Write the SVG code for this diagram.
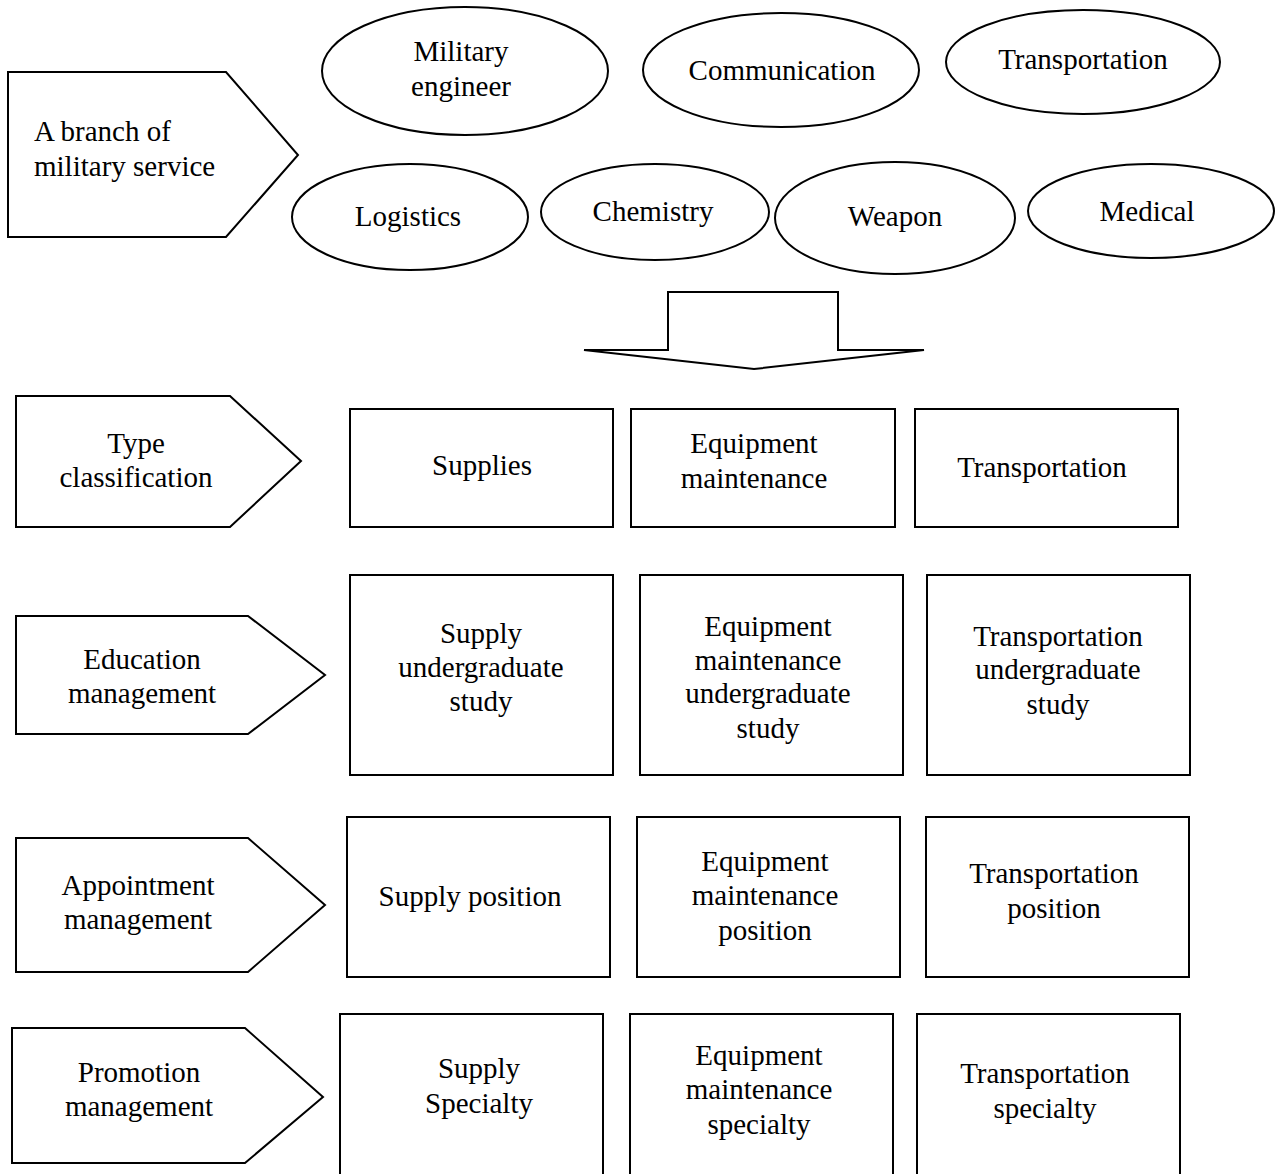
<svg xmlns="http://www.w3.org/2000/svg" width="1278" height="1174" viewBox="0 0 1278 1174">
<style>
.s{fill:#fff;stroke:#000;stroke-width:2}
text{font-family:'Liberation Serif','Times New Roman',serif;font-size:29px;fill:#000}
.c{text-anchor:middle}
</style>
<rect width="1278" height="1174" fill="#fff"/>
<g id="branch"><polygon class="s" points="8,72 226,72 298,155 226,237 8,237"/><text x="34" y="141">A branch of</text><text x="34" y="176">military service</text></g>
<g id="military-engineer"><ellipse class="s" cx="465" cy="71" rx="143" ry="64"/><text class="c" x="461" y="61">Military</text><text class="c" x="461" y="96">engineer</text></g>
<g id="communication"><ellipse class="s" cx="781" cy="70" rx="138" ry="57"/><text class="c" x="782" y="80">Communication</text></g>
<g id="transportation-e"><ellipse class="s" cx="1083" cy="62" rx="137" ry="52"/><text class="c" x="1083" y="69">Transportation</text></g>
<g id="logistics"><ellipse class="s" cx="410" cy="217" rx="118" ry="53"/><text class="c" x="408" y="226">Logistics</text></g>
<g id="chemistry"><ellipse class="s" cx="655" cy="212" rx="114" ry="48"/><text class="c" x="653" y="221">Chemistry</text></g>
<g id="weapon"><ellipse class="s" cx="895" cy="218" rx="120" ry="56"/><text class="c" x="895" y="226">Weapon</text></g>
<g id="medical"><ellipse class="s" cx="1151" cy="211" rx="123" ry="47"/><text class="c" x="1147" y="221">Medical</text></g>
<g id="connectors"><polygon class="s" points="668,292 838,292 838,350 924,350 754,369 584,350 668,350"/></g>
<g id="type"><polygon class="s" points="16,396 230,396 301,461 230,527 16,527"/><text class="c" x="136" y="453">Type</text><text class="c" x="136" y="487">classification</text></g>
<g id="supplies"><rect class="s" x="350" y="409" width="263" height="118"/><text class="c" x="482" y="475">Supplies</text></g>
<g id="equip1"><rect class="s" x="631" y="409" width="264" height="118"/><text class="c" x="754" y="453">Equipment</text><text class="c" x="754" y="488">maintenance</text></g>
<g id="trans1"><rect class="s" x="915" y="409" width="263" height="118"/><text class="c" x="1042" y="477">Transportation</text></g>
<g id="education"><polygon class="s" points="16,616 248,616 325,675 248,734 16,734"/><text class="c" x="142" y="669">Education</text><text class="c" x="142" y="703">management</text></g>
<g id="supply-ug"><rect class="s" x="350" y="575" width="263" height="200"/><text class="c" x="481" y="643">Supply</text><text class="c" x="481" y="677">undergraduate</text><text class="c" x="481" y="711">study</text></g>
<g id="equip-ug"><rect class="s" x="640" y="575" width="263" height="200"/><text class="c" x="768" y="636">Equipment</text><text class="c" x="768" y="670">maintenance</text><text class="c" x="768" y="703">undergraduate</text><text class="c" x="768" y="738">study</text></g>
<g id="trans-ug"><rect class="s" x="927" y="575" width="263" height="200"/><text class="c" x="1058" y="646">Transportation</text><text class="c" x="1058" y="679">undergraduate</text><text class="c" x="1058" y="714">study</text></g>
<g id="appointment"><polygon class="s" points="16,838 248,838 325,905 248,972 16,972"/><text class="c" x="138" y="895">Appointment</text><text class="c" x="138" y="929">management</text></g>
<g id="supply-pos"><rect class="s" x="347" y="817" width="263" height="160"/><text class="c" x="470" y="906">Supply position</text></g>
<g id="equip-pos"><rect class="s" x="637" y="817" width="263" height="160"/><text class="c" x="765" y="871">Equipment</text><text class="c" x="765" y="905">maintenance</text><text class="c" x="765" y="940">position</text></g>
<g id="trans-pos"><rect class="s" x="926" y="817" width="263" height="160"/><text class="c" x="1054" y="883">Transportation</text><text class="c" x="1054" y="918">position</text></g>
<g id="promotion"><polygon class="s" points="12,1028 245,1028 323,1097 245,1163 12,1163"/><text class="c" x="139" y="1082">Promotion</text><text class="c" x="139" y="1116">management</text></g>
<g id="supply-spec"><rect class="s" x="340" y="1014" width="263" height="170"/><text class="c" x="479" y="1078">Supply</text><text class="c" x="479" y="1113">Specialty</text></g>
<g id="equip-spec"><rect class="s" x="630" y="1014" width="263" height="170"/><text class="c" x="759" y="1065">Equipment</text><text class="c" x="759" y="1099">maintenance</text><text class="c" x="759" y="1134">specialty</text></g>
<g id="trans-spec"><rect class="s" x="917" y="1014" width="263" height="170"/><text class="c" x="1045" y="1083">Transportation</text><text class="c" x="1045" y="1118">specialty</text></g>
</svg>
